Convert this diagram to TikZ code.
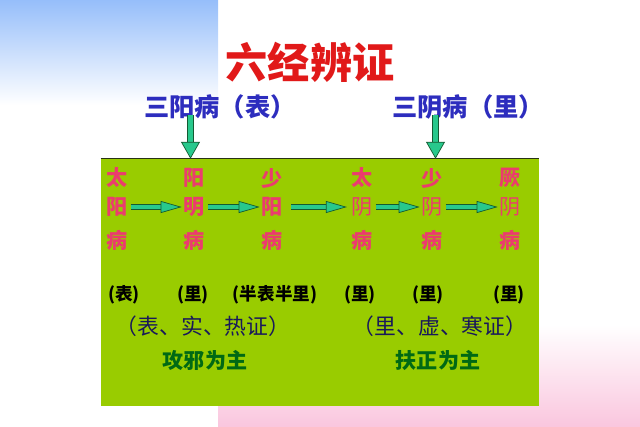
\documentclass[tikz,border=0pt]{standalone}
\usepackage{fontspec}
\newfontfamily\cjk{Noto Sans CJK SC}
\usepackage{tikz}
\usetikzlibrary{arrows.meta,positioning,fit}
\usepackage{xcolor}
\definecolor{cSky}{RGB}{150,190,250}
\definecolor{cPink}{RGB}{250,198,222}
\definecolor{cLime}{RGB}{153,204,0}
\definecolor{cLine}{RGB}{40,50,20}
\definecolor{cTitle}{RGB}{225,25,25}
\definecolor{cSub}{RGB}{45,45,190}
\definecolor{cRose}{RGB}{235,60,110}
\definecolor{cTeal}{RGB}{40,200,140}
\definecolor{cEdge}{RGB}{20,90,50}
\definecolor{cNavy}{RGB}{25,25,90}
\definecolor{cLeaf}{RGB}{0,105,20}
\tikzset{
  basetext/.style={inner sep=1pt,align=center},
  titlenode/.style={basetext,text=cTitle,font=\cjk\bfseries\fontsize{30}{32}\selectfont},
  subnode/.style={basetext,text=cSub,font=\cjk\bfseries\fontsize{18}{20}\selectfont},
  jingnode/.style={basetext,text=cRose,font=\cjk\bfseries\fontsize{15}{17}\selectfont},
  yinnode/.style={basetext,text=cRose,font=\cjk\fontsize{15}{17}\selectfont},
  locnode/.style={basetext,text=black,font=\cjk\bfseries\fontsize{12.5}{14}\selectfont},
  zhengnode/.style={basetext,text=cNavy,font=\cjk\fontsize{15.5}{17}\selectfont},
  zhinode/.style={basetext,text=cLeaf,font=\cjk\bfseries\fontsize{15}{17}\selectfont},
  greenbox/.style={fill=cLime,inner sep=0pt},
  rarr/.style={draw=cEdge,line width=0.5pt,double=cTeal,double distance=2.6pt,
               -{Triangle[length=15pt,width=8.5pt,fill=cTeal]}},
  darr/.style={draw=cEdge,line width=0.5pt,double=cTeal,double distance=4pt,
               -{Triangle[length=12pt,width=13.5pt,fill=cTeal]}}
}
\begin{document}
\begin{tikzpicture}[x=0.025cm,y=-0.025cm]
  \useasboundingbox (0,0) rectangle (640,427);

  % background
  \fill[top color=cSky,bottom color=white] (0,0) rectangle (218,105);
  \fill[top color=white,bottom color=cPink] (218,325) rectangle (640,427);
  \coordinate (boxnw) at (101,159);
  \coordinate (boxse) at (539,406);
  \node[greenbox,fit=(boxnw)(boxse)] (box) {};
  \draw[cLine,line width=1pt] (box.north west) -- (box.north east);

  % title
  \node[titlenode] (title) at (310,62) {六经辨证};
  \node[subnode] (sanyang) at (220,107) {三阳病（表）};
  \node[subnode] (sanyin) at (468,107) {三阴病（里）};

  % six channels
  \node[jingnode] (ty1) at (117,178) {太};
  \node[jingnode] (ty2) at (117,207) {阳};
  \node[jingnode] (ty3) at (117,240) {病};
  \node[jingnode] (ym1) at (194,178) {阳};
  \node[jingnode] (ym2) at (194,207) {明};
  \node[jingnode] (ym3) at (194,240) {病};
  \node[jingnode] (sy1) at (272,178) {少};
  \node[jingnode] (sy2) at (272,207) {阳};
  \node[jingnode] (sy3) at (272,240) {病};
  \node[jingnode] (tyn1) at (362,178) {太};
  \node[yinnode]  (tyn2) at (362,207) {阴};
  \node[jingnode] (tyn3) at (362,240) {病};
  \node[jingnode] (syn1) at (432,178) {少};
  \node[yinnode]  (syn2) at (432,207) {阴};
  \node[jingnode] (syn3) at (432,240) {病};
  \node[jingnode] (jy1) at (510,178) {厥};
  \node[yinnode]  (jy2) at (510,207) {阴};
  \node[jingnode] (jy3) at (510,240) {病};

  % location
  \node[locnode] (biao) at (124,295) {(表)};
  \node[locnode] (li1) at (193,295) {(里)};
  \node[locnode] (banli) at (275,295) {(半表半里)};
  \node[locnode] (li2) at (360,295) {(里)};
  \node[locnode] (li3) at (428,295) {(里)};
  \node[locnode] (li4) at (509,295) {(里)};

  \node[zhengnode] (shizheng) at (203,326) {（表、实、热证）};
  \node[zhengnode] (xuzheng) at (440,326) {（里、虚、寒证）};
  \node[zhinode] (gongxie) at (205,360) {攻邪为主};
  \node[zhinode] (fuzheng) at (438,360) {扶正为主};

  % arrows
  \coordinate (d1) at (190.5,115);
  \coordinate (d2) at (435.5,115);
  \draw[darr] (d1) -- (d1 |- box.north);
  \draw[darr] (d2) -- (d2 |- box.north);
  \draw[rarr,shorten <=1pt] (ty2.east) -- (ym2.west);
  \draw[rarr,shorten <=1pt] (ym2.east) -- (sy2.west);
  \draw[rarr,shorten <=5pt,shorten >=2pt] (sy2.east) -- (tyn2.west);
  \draw[rarr,shorten <=1pt] (tyn2.east) -- (syn2.west);
  \draw[rarr,shorten <=1pt] (syn2.east) -- (jy2.west);

\end{tikzpicture}
\end{document}
